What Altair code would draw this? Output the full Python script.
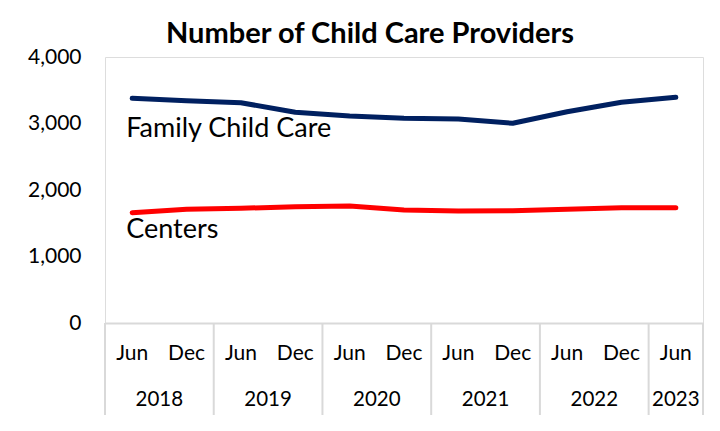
import altair as alt
import pandas as pd

months = ["Jun", "Dec", "Jun", "Dec", "Jun", "Dec", "Jun", "Dec", "Jun", "Dec", "Jun"]
years = ["2018", "2018", "2019", "2019", "2020", "2020", "2021", "2021", "2022", "2022", "2023"]
family = [3379, 3343, 3313, 3168, 3113, 3078, 3068, 3003, 3177, 3319, 3394]
centers = [1659, 1710, 1725, 1749, 1759, 1699, 1684, 1689, 1710, 1734, 1734]

year_labels = ["2018", "2019", "2020", "2021", "2022", "2023"]
year_starts = [0, 2, 4, 6, 8, 10]
year_ends = [2, 4, 6, 8, 10, 11]
boundaries = [0, 2, 4, 6, 8, 10, 11]

series_names = ["Family Child Care", "Centers"]
series_colors = ["#002060", "#FF0000"]
label_x = [0.39, 0.39]
label_y = [2797, 1280]

FONT = "Lato"
W, H = 598, 266

rows = []
for i in range(len(months)):
    rows.append({"pos": i + 0.5, "value": family[i], "series": series_names[0]})
    rows.append({"pos": i + 0.5, "value": centers[i], "series": series_names[1]})
df = pd.DataFrame(rows)

xscale = alt.Scale(domain=[0, 11], nice=False, zero=False)
yscale = alt.Scale(domain=[0, 4000], nice=False)

lines = alt.Chart(df).mark_line(strokeWidth=5, strokeCap="round", strokeJoin="round").encode(
    x=alt.X("pos:Q", scale=xscale,
            axis=alt.Axis(labels=False, ticks=False, grid=False, domain=True,
                          domainColor="#d9d9d9", domainWidth=2, title=None)),
    y=alt.Y("value:Q", scale=yscale,
            axis=alt.Axis(values=[0, 1000, 2000, 3000, 4000], format=",.0f", grid=False,
                          domain=False, ticks=False, labelFont=FONT, labelFontSize=21,
                          labelColor="#000000", labelPadding=24, title=None)),
    color=alt.Color("series:N", scale=alt.Scale(domain=series_names, range=series_colors), legend=None),
)

lab_df = pd.DataFrame({"name": series_names, "x": label_x, "y": label_y})
labels = alt.Chart(lab_df).mark_text(align="left", baseline="alphabetic", font=FONT, fontSize=27,
                                     color="#000000").encode(
    x=alt.X("x:Q", scale=xscale), y=alt.Y("y:Q", scale=yscale), text="name:N")

sep_df = pd.DataFrame({"b": boundaries})
seps = alt.Chart(sep_df).mark_rule(color="#d9d9d9", strokeWidth=2).encode(
    x=alt.X("b:Q", scale=xscale), y=alt.value(H), y2=alt.value(H + 92))

mon_df = pd.DataFrame({"pos": [i + 0.5 for i in range(len(months))], "m": months})
mon = alt.Chart(mon_df).mark_text(font=FONT, fontSize=21, color="#000000", baseline="middle").encode(
    x=alt.X("pos:Q", scale=xscale), y=alt.value(H + 31), text="m:N")

yr_df = pd.DataFrame({"c": [(s + e) / 2 for s, e in zip(year_starts, year_ends)], "yr": year_labels})
yr = alt.Chart(yr_df).mark_text(font=FONT, fontSize=20.5, color="#000000", baseline="middle").encode(
    x=alt.X("c:Q", scale=xscale), y=alt.value(H + 77), text="yr:N")

chart = alt.layer(seps, lines, labels, mon, yr).properties(
    width=W, height=H,
    title=alt.TitleParams("Number of Child Care Providers", font=FONT, fontSize=29, fontWeight="bold",
                          color="#000000", anchor="middle", offset=10, dx=-34, dy=13),
    padding={"left": 97, "top": 49, "right": 9, "bottom": 100},
    autosize=alt.AutoSizeParams(type="none"),
).configure_view(stroke=None).configure(background="white")

chart.save("out.html", embed_options={"renderer": "svg", "actions": False})
